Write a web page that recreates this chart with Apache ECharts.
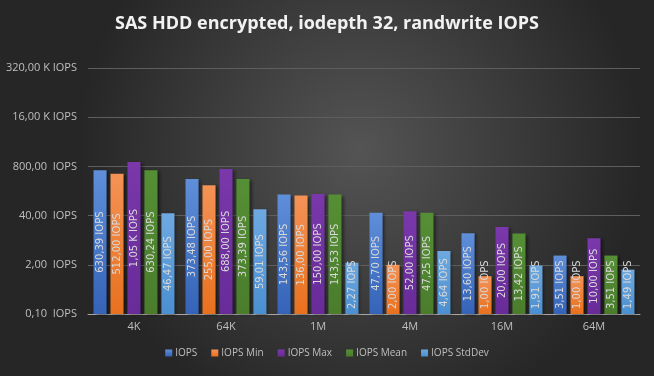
<!DOCTYPE html>
<html>
<head>
<meta charset="utf-8">
<script src="https://cdn.jsdelivr.net/npm/echarts@6/dist/echarts.min.js"></script>
<style>
  html, body { margin: 0; padding: 0; }
  #chart { width: 654px; height: 376px; }
</style>
</head>
<body>
<div id="chart"></div>
<script>
const categories = ['4K', '64K', '1M', '4M', '16M', '64M'];
const seriesNames = ['IOPS', 'IOPS Min', 'IOPS Max', 'IOPS Mean', 'IOPS StdDev'];
const iops       = [630.39, 373.48, 143.56, 47.70, 13.60, 3.51];
const iopsMin    = [512.00, 255.00, 136.00, 2.00, 1.00, 1.00];
const iopsMax    = [1050.00, 688.00, 150.00, 52.00, 20.00, 10.00];
const iopsMean   = [630.24, 373.39, 143.53, 47.25, 13.42, 3.51];
const iopsStdDev = [46.47, 59.01, 2.27, 4.64, 1.91, 1.49];
const axisTicks  = [0.1, 2, 40, 800, 16000, 320000];

const allValues = [iops, iopsMin, iopsMax, iopsMean, iopsStdDev];
const colors = [
  ['#5f8fd9', '#3463b8'],
  ['#f49256', '#e8711f'],
  ['#7a38aa', '#682b98'],
  ['#558f35', '#4a7c2c'],
  ['#6ea9e0', '#4b8fd0']
];

// log axis base 20 starts at 1, so values are shifted by x10 (0,10 -> 1)
const SHIFT = 10;
// bars too short for a centred label get it pushed to the base, like Excel does
const SHORT_BAR = 3;

function fmtNum(v) {
  return v.toFixed(2).replace('.', ',');
}
function fmtAxis(v) {
  if (v >= 1000) return fmtNum(v / 1000) + ' K IOPS';
  return fmtNum(v) + '  IOPS';
}
function fmtBar(v) {
  if (v >= 1000) return fmtNum(v / 1000) + ' K IOPS';
  return fmtNum(v) + ' IOPS';
}

const chart = echarts.init(document.getElementById('chart'));

const series = seriesNames.map(function (name, i) {
  return {
    name: name,
    type: 'bar',
    barGap: '30%',
    barCategoryGap: '12%',
    data: allValues[i].map(function (v) {
      const item = { value: v * SHIFT };
      if (v < SHORT_BAR) {
        item.label = { position: 'insideBottom', align: 'left', verticalAlign: 'middle', distance: 5 };
      }
      return item;
    }),
    itemStyle: {
      color: new echarts.graphic.LinearGradient(0, 0, 0, 1, [
        { offset: 0, color: colors[i][0] },
        { offset: 1, color: colors[i][1] }
      ]),
      shadowColor: 'rgba(0,0,0,0.45)',
      shadowBlur: 3,
      shadowOffsetX: 2,
      shadowOffsetY: 1
    },
    label: {
      show: true,
      position: 'inside',
      rotate: 90,
      color: '#d9d9d9',
      fontSize: 10,
      fontFamily: 'DejaVu Sans',
      formatter: function (p) {
        return fmtBar(allValues[i][p.dataIndex]);
      }
    }
  };
});

chart.setOption({
  backgroundColor: new echarts.graphic.RadialGradient(0.55, 0.4, 0.75, [
    { offset: 0, color: '#545454' },
    { offset: 1, color: '#262626' }
  ]),
  animation: false,
  title: {
    text: 'SAS HDD encrypted, iodepth 32, randwrite IOPS',
    left: 'center',
    top: 10,
    textStyle: {
      color: '#f2f2f2',
      fontSize: 18,
      fontWeight: 'bold',
      fontFamily: 'Open Sans'
    }
  },
  legend: {
    bottom: 13,
    left: 'center',
    itemWidth: 7,
    itemHeight: 7,
    itemGap: 14,
    icon: 'rect',
    textStyle: { color: '#bfbfbf', fontSize: 10, fontFamily: 'Open Sans', padding: [0, 0, 0, -2] },
    data: seriesNames
  },
  grid: {
    left: 88,
    right: 14,
    top: 68,
    bottom: 62
  },
  xAxis: {
    type: 'category',
    data: categories,
    axisLine: { lineStyle: { color: '#a6a6a6', width: 1 } },
    axisTick: { show: false },
    axisLabel: { color: '#bfbfbf', fontSize: 11, fontFamily: 'Open Sans', margin: 7 }
  },
  yAxis: {
    type: 'log',
    logBase: 20,
    min: axisTicks[0] * SHIFT,
    max: axisTicks[axisTicks.length - 1] * SHIFT,
    splitNumber: 5,
    axisLine: { show: false },
    axisTick: { show: false },
    splitLine: { lineStyle: { color: '#5e5e5e', width: 1 } },
    axisLabel: {
      color: '#bfbfbf',
      fontSize: 11,
      fontFamily: 'Open Sans',
      margin: 11,
      formatter: function (v) {
        return fmtAxis(v / SHIFT);
      }
    }
  },
  series: series
});
</script>
</body>
</html>
